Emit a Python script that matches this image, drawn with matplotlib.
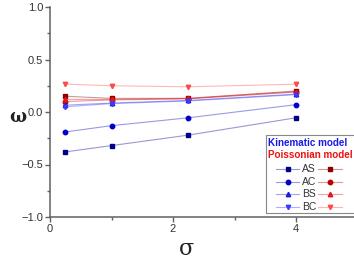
import matplotlib
matplotlib.use('Agg')
import matplotlib.pyplot as plt
from matplotlib.lines import Line2D
from matplotlib.patches import Rectangle
from matplotlib.colors import to_rgba

plt.rcParams['font.family'] = ['Liberation Sans', 'DejaVu Sans']

sigma = [0.25, 1, 2.25, 4]
series = ['AS', 'AC', 'BS', 'BC']
markers = ['s', 'o', '^', 'v']

kin = {
    'AS': [-0.38, -0.32, -0.22, -0.055],
    'AC': [-0.19, -0.13, -0.055, 0.07],
    'BS': [0.065, 0.085, 0.11, 0.17],
    'BC': [0.05, 0.08, 0.105, 0.165],
}
poi = {
    'AS': [0.15, 0.13, 0.13, 0.20],
    'AC': [0.10, 0.115, 0.125, 0.19],
    'BS': [0.12, 0.12, 0.13, 0.195],
    'BC': [0.265, 0.25, 0.24, 0.265],
}
kin_col = ['#00008b', '#0000c8', '#1a1ae0', '#3a3aff']
poi_col = ['#8b0000', '#c00000', '#e01818', '#ff4a4a']

fig = plt.figure(figsize=(3.54, 2.63), dpi=100)
ax = fig.add_axes([50/354, 46/263, 307.5/354, 210/263])

def line(c):
    r, g, b, _ = to_rgba(c)
    return (r, g, b, 0.4)

for i, s in enumerate(series):
    ax.plot(sigma, kin[s], color=line(kin_col[i]), lw=0.8, marker=markers[i],
            ms=3.2, mfc=kin_col[i], mec=kin_col[i])
    ax.plot(sigma, poi[s], color=line(poi_col[i]), lw=0.8, marker=markers[i],
            ms=3.2, mfc=poi_col[i], mec=poi_col[i])

ax.set_xlim(0, 5)
ax.set_ylim(-1.0, 1.0)
ax.set_xticks([0, 2, 4])
ax.set_xticks([1, 3], minor=True)
ax.set_yticks([-1.0, -0.5, 0.0, 0.5, 1.0])
ax.set_yticks([-0.75, -0.25, 0.25, 0.75], minor=True)
ax.spines['top'].set_visible(False)
ax.spines['right'].set_visible(False)
for sp in ('left', 'bottom'):
    ax.spines[sp].set_color('#606060')
    ax.spines[sp].set_linewidth(1.1)
ax.tick_params(which='both', direction='out', color='#606060', width=1,
               labelsize=8, labelcolor='#333333', pad=1.5)
ax.tick_params(which='major', length=3.5)
ax.tick_params(which='minor', length=2)

fig.text(18/354, 1 - 117/263, '\u03c9', fontsize=13, fontweight='bold',
         family='DejaVu Serif', color='#222222', ha='center', va='center')
fig.text(187/354, 1 - 249/263, '\u03c3', fontsize=16, family='DejaVu Serif',
         color='#222222', ha='center', va='center')

# legend drawn by hand (two column layout with header lines)
tr = fig.transFigure
def fx(px):
    return px / 354
def fy(py):
    return 1 - py / 263

fig.patches.append(Rectangle((fx(266), fy(213)), fx(100), fy(135) - fy(213),
                             transform=tr, fill=False, ec='#888888', lw=0.8))
fig.text(fx(267.5), fy(142.5), 'Kinematic model', color='#1a1ae6',
         fontsize=7.1, fontweight='bold', va='center')
fig.text(fx(267.5), fy(155.5), 'Poissonian model', color='#ee1111',
         fontsize=7.1, fontweight='bold', va='center')
for i, s in enumerate(series):
    yy = fy(169 + i * 12.6)
    fig.lines.append(Line2D([fx(276), fx(299)], [yy, yy], transform=tr,
                            color=line(kin_col[i]), lw=0.8))
    fig.lines.append(Line2D([fx(287.5)], [yy], transform=tr, marker=markers[i],
                            ms=3.2, color=kin_col[i], ls='none'))
    fig.text(fx(302), yy, s, fontsize=7.5, color='#333333', va='center')
    fig.lines.append(Line2D([fx(318), fx(342)], [yy, yy], transform=tr,
                            color=line(poi_col[i]), lw=0.8))
    fig.lines.append(Line2D([fx(330)], [yy], transform=tr, marker=markers[i],
                            ms=3.2, color=poi_col[i], ls='none'))

fig.savefig('out.png', dpi=100)
